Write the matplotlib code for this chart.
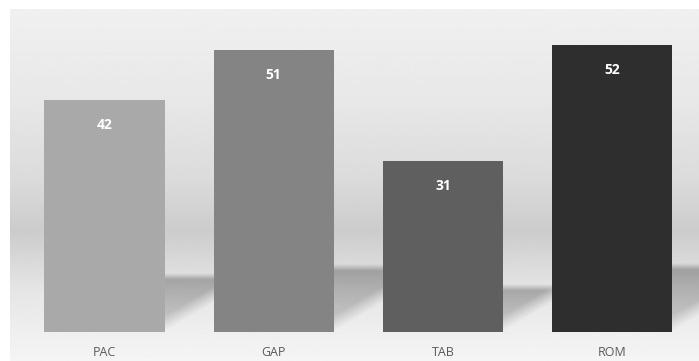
import matplotlib
matplotlib.use("Agg")
import matplotlib.pyplot as plt
import numpy as np

# данные
categories = ["PAC", "GAP", "TAB", "ROM"]
values = [42, 51, 31, 52]
bar_colors = ["#a9a9a9", "#848484", "#5f5f5f", "#2e2e2e"]

fig = plt.figure(figsize=(6.99, 3.61), dpi=100)
fig.patch.set_facecolor("white")
ax = fig.add_axes([0, 0, 1, 1])
xlim = (-0.6176, 3.5136)
ylim = (-5.25, 60.14)

# фон-градиент (стена и пол)
ys = np.linspace(0, 1, 400)
stops_y = [0.0, 0.25, 0.48, 0.63, 0.70, 0.80, 1.0]
stops_v = [0.94, 0.91, 0.86, 0.80, 0.84, 0.90, 0.96]
grad = np.interp(ys, stops_y, stops_v)
bg = np.repeat(grad[:, None], 2, axis=1)
ax.imshow(bg, cmap="gray", vmin=0, vmax=1, aspect="auto",
          extent=[-0.5585, 3.5136, -5.25, 58.33], zorder=0, interpolation="bilinear")

width = 0.71
x = np.arange(len(categories))

# мягкие тени справа от столбиков
slope = 18.4
L = 0.6
for xi, v in zip(x, values):
    xr = xi + width / 2
    h = 0.18 * v + 2.5
    top = h + 1.5
    gx, gy = np.meshgrid(np.linspace(xr, xr + L, 200), np.linspace(0, top, 200))
    s_top = np.clip((h - gy) / 1.2 + 0.5, 0, 1)
    s_diag = np.clip((gy - slope * (gx - xr)) / 3.0, 0, 1)
    a = 0.28 * (0.5 + 0.5 * gy / h) * s_top * s_diag
    img = np.zeros(gx.shape + (4,))
    img[..., 3] = a
    ax.imshow(img, aspect="auto", extent=[xr, xr + L, 0, top], origin="lower",
              zorder=1, interpolation="bilinear")

ax.bar(x, values, width=width, color=bar_colors, zorder=2)
ax.set_xlim(*xlim)
ax.set_ylim(*ylim)
ax.axis("off")

# подписи значений
for xi, v in zip(x, values):
    ax.text(xi, v - 4.5, str(v), ha="center", va="center", color="white",
            fontsize=10, fontweight="bold", family="Open Sans", zorder=3)

# подписи категорий
for xi, c in zip(x, categories):
    ax.text(xi, -3.8, c, ha="center", va="center", color="#5a5a5a",
            fontsize=9, family="Open Sans", zorder=3)

fig.savefig("out.png", dpi=100)
